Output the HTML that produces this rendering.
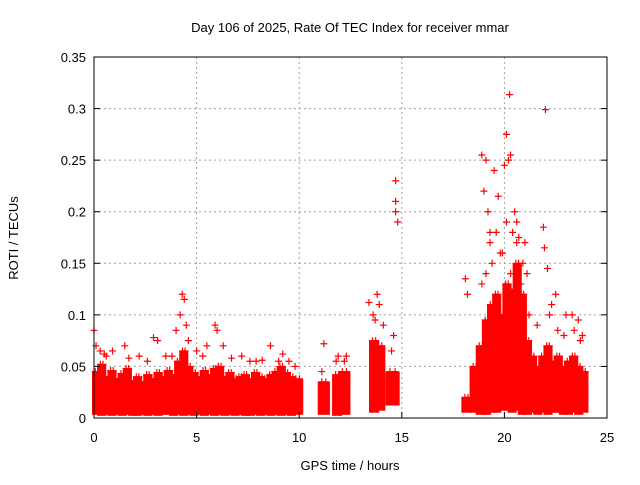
<!DOCTYPE html>
<html><head><meta charset="utf-8"><style>
body{margin:0;background:#fff}
svg text{font-family:"Liberation Sans",sans-serif;font-size:13px;fill:#000}
</style></head><body>
<svg id="chart" width="640" height="480" xmlns="http://www.w3.org/2000/svg">
<text x="350" y="32" text-anchor="middle">Day 106 of 2025, Rate Of TEC Index for receiver mmar</text>
<text x="350" y="470" text-anchor="middle">GPS time / hours</text>
<text transform="translate(18,238) rotate(-90)" text-anchor="middle">ROTI / TECUs</text>
<g id="grid"></g><g id="marks"></g><g id="axes"></g>
</svg>
<script>
const xTicks=[0,5,10,15,20,25];
const yTicks=[0,0.05,0.1,0.15,0.2,0.25,0.3,0.35];
const yTickLabels=["0","0.05","0.1","0.15","0.2","0.25","0.3","0.35"];
// dense band: start hour, end hour, low value, high value
const bandStart=[0,0.25,0.5,0.75,1,1.25,1.5,1.75,2,2.25,2.5,2.75,3,3.25,3.5,3.75,4,4.25,4.5,4.75,5,5.25,5.5,5.75,6,6.25,6.5,6.75,7,7.25,7.5,7.75,8,8.25,8.5,8.75,9,9.25,9.5,9.75,11.0,11.7,12.0,13.5,13.8,14.3,18.0,18.4,18.7,19,19.25,19.5,19.75,20,20.25,20.5,20.75,21,21.25,21.5,21.75,22,22.25,22.5,22.75,23,23.25,23.5,23.75];
const bandEnd=[0.25,0.5,0.75,1,1.25,1.5,1.75,2,2.25,2.5,2.75,3,3.25,3.5,3.75,4,4.25,4.5,4.75,5,5.25,5.5,5.75,6,6.25,6.5,6.75,7,7.25,7.5,7.75,8,8.25,8.5,8.75,9,9.25,9.5,9.75,10.1,11.4,12.0,12.4,13.8,14.1,14.8,18.3,18.7,19,19.25,19.5,19.75,20,20.25,20.5,20.75,21,21.25,21.5,21.75,22,22.25,22.5,22.75,23,23.25,23.5,23.75,24];
const bandLow=[0.006,0.005,0.006,0.005,0.006,0.005,0.006,0.005,0.005,0.006,0.005,0.006,0.005,0.006,0.006,0.005,0.006,0.005,0.006,0.005,0.006,0.005,0.006,0.005,0.006,0.005,0.006,0.005,0.006,0.005,0.005,0.006,0.005,0.006,0.005,0.006,0.005,0.006,0.005,0.006,0.006,0.005,0.006,0.008,0.01,0.015,0.008,0.008,0.006,0.006,0.008,0.008,0.01,0.01,0.008,0.01,0.006,0.006,0.008,0.006,0.008,0.006,0.008,0.008,0.006,0.006,0.008,0.006,0.008];
const bandHigh=[0.045,0.052,0.04,0.046,0.038,0.043,0.048,0.036,0.04,0.035,0.042,0.038,0.044,0.04,0.046,0.042,0.055,0.065,0.05,0.044,0.04,0.046,0.042,0.048,0.05,0.04,0.044,0.038,0.04,0.042,0.038,0.044,0.04,0.038,0.042,0.045,0.05,0.044,0.04,0.038,0.035,0.042,0.045,0.075,0.07,0.045,0.02,0.05,0.07,0.095,0.11,0.12,0.1,0.13,0.125,0.15,0.12,0.075,0.06,0.05,0.06,0.07,0.055,0.06,0.05,0.055,0.06,0.05,0.045];
// outlier points
const ptT=[0,0.1,0.3,0.6,0.9,1.5,2.2,2.9,3.1,3.5,4.0,4.2,4.3,4.4,4.5,4.6,5.0,5.5,5.9,6.0,6.3,7.2,7.6,7.9,8.6,9.0,9.5,9.8,11.2,11.9,12.3,13.4,13.6,13.8,13.9,14.6,14.7,14.7,14.7,14.8,18.1,18.2,18.9,19.0,19.1,19.2,19.3,19.5,19.7,19.8,20.0,20.1,20.2,20.3,20.4,20.5,20.6,20.7,21.0,21.1,21.9,21.95,22.0,22.1,22.3,22.5,23.0,23.3,23.6,23.8,20.25,19.4,20.3,20.8,18.9,19.1,19.3,19.6,19.9,20.1,20.6,20.9,21.2,21.6,22.2,22.6,22.9,23.4,23.7,0.5,1.7,2.6,3.8,5.3,6.7,8.2,9.2,11.1,11.8,12.2,13.7,14.1,14.5];
const ptV=[0.085,0.07,0.065,0.06,0.065,0.07,0.06,0.078,0.075,0.06,0.085,0.1,0.12,0.115,0.09,0.075,0.065,0.07,0.09,0.085,0.07,0.06,0.055,0.055,0.07,0.055,0.055,0.05,0.072,0.06,0.06,0.112,0.1,0.12,0.11,0.08,0.23,0.21,0.2,0.19,0.135,0.12,0.255,0.22,0.25,0.2,0.18,0.24,0.215,0.16,0.245,0.275,0.25,0.255,0.18,0.2,0.19,0.175,0.17,0.14,0.185,0.165,0.299,0.145,0.11,0.12,0.1,0.1,0.095,0.08,0.3135,0.15,0.14,0.13,0.13,0.14,0.17,0.18,0.16,0.19,0.17,0.15,0.1,0.09,0.1,0.085,0.08,0.085,0.075,0.062,0.058,0.055,0.06,0.06,0.058,0.056,0.062,0.045,0.055,0.055,0.095,0.09,0.065];
const xs=t=>94+t*20.52, ys=v=>418-v*1031.4;
const NS="http://www.w3.org/2000/svg";
const grid=document.getElementById('grid'),marks=document.getElementById('marks'),axes=document.getElementById('axes');
function mk(tag,attrs,parent){const e=document.createElementNS(NS,tag);for(const k in attrs)e.setAttribute(k,attrs[k]);parent.appendChild(e);return e;}
xTicks.forEach((t,i)=>{
 if(i>0&&i<xTicks.length-1){const g=mk('line',{x1:xs(t),x2:xs(t),y1:57,y2:418,stroke:'#a0a0a0','stroke-dasharray':'2,3'},grid);
 
 }
 const l=mk('text',{x:xs(t),y:442,'text-anchor':'middle'},axes);l.textContent=t;
 
 
 mk('line',{x1:xs(t),x2:xs(t),y1:418,y2:412,stroke:'#000'},axes);
});
yTicks.forEach((v,i)=>{
 if(i>0&&i<yTicks.length-1){const g=mk('line',{x1:94,x2:607,y1:ys(v),y2:ys(v),stroke:'#a0a0a0','stroke-dasharray':'2,3'},grid);
 
 }
 const l=mk('text',{x:86,y:ys(v)+5,'text-anchor':'end'},axes);l.textContent=yTickLabels[i];
 
 
 mk('line',{x1:94,x2:100,y1:ys(v),y2:ys(v),stroke:'#000'},axes);
 mk('line',{x1:607,x2:601,y1:ys(v),y2:ys(v),stroke:'#000'},axes);
});
const fr=mk('rect',{x:94,y:57,width:513,height:361,fill:'none',stroke:'#000'},axes);


bandStart.forEach((s,i)=>{
 const r=mk('rect',{x:xs(s)-2,y:ys(bandHigh[i]),width:xs(bandEnd[i])-xs(s)+4,height:ys(bandLow[i])-ys(bandHigh[i])+3,fill:'#ff0000'},marks);
 
 
 for(let k=0;k<2;k++){const t=s+(bandEnd[i]-s)*(k+0.5)/2;
  const p=mk('path',{d:`M${xs(t)-3.5},${ys(bandHigh[i])}h7M${xs(t)},${ys(bandHigh[i])-3.5}v7`,stroke:'#ff0000','stroke-width':1.2},marks);
  
  }
});
ptT.forEach((t,i)=>{
 const x=xs(t),y=ys(ptV[i]);
 const p=mk('path',{d:`M${x-3.5},${y}h7M${x},${y-3.5}v7`,stroke:'#ff0000','stroke-width':1.2},marks);
 
 
});
</script>
</body></html>
